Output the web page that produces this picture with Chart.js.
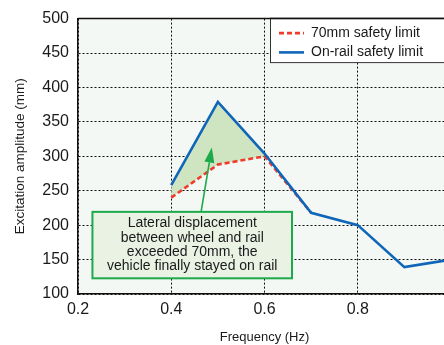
<!DOCTYPE html>
<html>
<head>
<meta charset="utf-8">
<script src="https://cdn.jsdelivr.net/npm/chart.js@4/dist/chart.umd.min.js"></script>
<style>
  html, body { margin: 0; padding: 0; background: #fff; overflow: hidden; width: 444px; height: 345px; }
  canvas { display: block; }
</style>
</head>
<body>
<canvas id="chart" width="451" height="345"></canvas>
<script>
// Excitation amplitude limits versus excitation frequency
const frequency      = [0.4, 0.5, 0.6, 0.7, 0.8, 0.9, 1.0];
const onRailLimit    = [258, 379, 304, 218, 200, 139, 150];
const limitFrequency = [0.4, 0.5, 0.6, 0.7];
const limit70mm      = [240, 288, 300, 218];
const shadedFrequency = [0.4, 0.5, 0.6];   // band between the two limits
const xTicks = [0.2, 0.4, 0.6, 0.8];
const xRange = [0.2, 1.0];
const yTicks = [100, 150, 200, 250, 300, 350, 400, 450, 500];
const seriesNames = ['On-rail safety limit', '70mm safety limit'];
const noteLines = [
  'Lateral displacement',
  'between wheel and rail',
  'exceeded 70mm, the',
  'vehicle finally stayed on rail'
];

const FONT = '"Liberation Sans", Arial, Helvetica, sans-serif';
const BLUE = '#0f66b8';
const RED = '#ee3b2a';
const GREEN = '#1daa4b';

const pairs = (xs, ys) => xs.map((x, i) => ({ x, y: ys[i] }));
const lookup = (xs, ys, x) => ys[xs.indexOf(x)];

// note box and arrow, in axis units
const note = { x0: 0.231, x1: 0.659, y0: 219.3, y1: 122.8, arrowFrom: [0.464, 219.3], arrowTo: [0.487, 312.6] };

const extras = {
  id: 'extras',
  beforeDraw(chart) {
    const { ctx, chartArea: a } = chart;
    ctx.save();
    ctx.fillStyle = '#f3f8f4';
    ctx.fillRect(a.left, a.top, a.right - a.left, a.bottom - a.top);
    ctx.restore();
  },
  afterDraw(chart) {
    const { ctx, chartArea: a, scales: { x, y } } = chart;
    ctx.save();

    // top frame line
    ctx.strokeStyle = '#111';
    ctx.lineWidth = 1.5;
    ctx.beginPath();
    ctx.moveTo(a.left, a.top);
    ctx.lineTo(a.right, a.top);
    ctx.stroke();

    // arrow
    const fx = x.getPixelForValue(note.arrowFrom[0]), fy = y.getPixelForValue(note.arrowFrom[1]);
    const tx = x.getPixelForValue(note.arrowTo[0]), ty = y.getPixelForValue(note.arrowTo[1]);
    const ang = Math.atan2(ty - fy, tx - fx);
    const headLen = 15, headHalf = 5;
    const bx = tx - headLen * Math.cos(ang), by = ty - headLen * Math.sin(ang);
    ctx.strokeStyle = GREEN;
    ctx.fillStyle = GREEN;
    ctx.lineWidth = 1.6;
    ctx.beginPath();
    ctx.moveTo(fx, fy);
    ctx.lineTo(bx, by);
    ctx.stroke();
    ctx.beginPath();
    ctx.moveTo(tx, ty);
    ctx.lineTo(bx + headHalf * Math.sin(ang), by - headHalf * Math.cos(ang));
    ctx.lineTo(bx - headHalf * Math.sin(ang), by + headHalf * Math.cos(ang));
    ctx.closePath();
    ctx.fill();

    // note box
    const l = x.getPixelForValue(note.x0), r = x.getPixelForValue(note.x1);
    const t = y.getPixelForValue(note.y0), b = y.getPixelForValue(note.y1);
    ctx.fillStyle = '#eaf2e4';
    ctx.fillRect(l, t, r - l, b - t);
    ctx.strokeStyle = GREEN;
    ctx.lineWidth = 2;
    ctx.strokeRect(l, t, r - l, b - t);
    ctx.fillStyle = '#1a1a1a';
    ctx.font = '14px ' + FONT;
    ctx.textAlign = 'center';
    ctx.textBaseline = 'middle';
    const lh = 14.3;
    const cy = (t + b) / 2, cx = (l + r) / 2;
    noteLines.forEach((s, i) => {
      ctx.fillText(s, cx, cy + (i - (noteLines.length - 1) / 2) * lh);
    });

    // legend
    const lx = 270, ly = a.top, lw = 200, lhgt = 44;
    ctx.fillStyle = '#ffffff';
    ctx.fillRect(lx, ly, lw, lhgt);
    ctx.strokeStyle = '#333';
    ctx.lineWidth = 1;
    ctx.strokeRect(lx + 0.5, ly, lw, lhgt);
    ctx.strokeStyle = '#111';
    ctx.lineWidth = 1.5;
    ctx.beginPath();
    ctx.moveTo(lx, ly);
    ctx.lineTo(a.right, ly);
    ctx.stroke();
    const order = [1, 0];
    order.forEach((di, row) => {
      const ds = chart.data.datasets[di];
      const rowY = ly + 14.5 + row * 19.3;
      ctx.strokeStyle = ds.borderColor;
      ctx.lineWidth = ds.borderWidth;
      ctx.setLineDash(ds.borderDash || []);
      ctx.beginPath();
      ctx.moveTo(279, rowY);
      ctx.lineTo(304, rowY);
      ctx.stroke();
      ctx.setLineDash([]);
      ctx.fillStyle = '#1a1a1a';
      ctx.font = '14px ' + FONT;
      ctx.textAlign = 'left';
      ctx.textBaseline = 'middle';
      ctx.fillText(ds.label, 311, rowY);
    });
    ctx.restore();
  }
};

const gridStyle = { color: '#111', lineWidth: 1, drawTicks: false };

new Chart(document.getElementById('chart'), {
  type: 'line',
  data: {
    datasets: [
      {
        label: seriesNames[0],
        data: pairs(frequency, onRailLimit),
        borderColor: BLUE,
        borderWidth: 2.6,
        pointRadius: 0,
        tension: 0,
        fill: false
      },
      {
        label: seriesNames[1],
        data: pairs(limitFrequency, limit70mm),
        borderColor: RED,
        borderWidth: 2.6,
        borderDash: [5, 3],
        pointRadius: 0,
        tension: 0,
        fill: false
      },
      {
        label: 'band upper',
        data: pairs(shadedFrequency, shadedFrequency.map(f => lookup(frequency, onRailLimit, f))),
        borderWidth: 0,
        borderColor: 'rgba(0,0,0,0)',
        backgroundColor: '#cfe4c1',
        pointRadius: 0,
        fill: '+1'
      },
      {
        label: 'band lower',
        data: pairs(shadedFrequency, shadedFrequency.map(f => lookup(limitFrequency, limit70mm, f))),
        borderWidth: 0,
        borderColor: 'rgba(0,0,0,0)',
        pointRadius: 0,
        fill: false
      }
    ]
  },
  options: {
    responsive: false,
    animation: false,
    layout: { padding: { top: 18, right: 0, bottom: 0, left: 0 } },
    plugins: {
      legend: { display: false },
      tooltip: { enabled: false }
    },
    scales: {
      x: {
        type: 'linear',
        min: xRange[0],
        max: xRange[1],
        afterBuildTicks: s => { s.ticks = xTicks.map(v => ({ value: v })); },
        afterFit: s => { s.height = 51; },
        grid: gridStyle,
        border: { display: true, color: '#111', width: 1.5, dash: [2, 2] },
        ticks: {
          padding: 6,
          color: '#1a1a1a',
          font: { family: FONT, size: 16 },
          maxRotation: 0,
          callback: v => v.toFixed(1)
        },
        title: {
          display: true,
          text: 'Frequency (Hz)',
          color: '#1a1a1a',
          font: { family: FONT, size: 13 },
          padding: { top: 0, bottom: 0 }
        }
      },
      y: {
        type: 'linear',
        min: yTicks[0],
        max: yTicks[yTicks.length - 1],
        afterBuildTicks: s => { s.ticks = yTicks.map(v => ({ value: v })); },
        afterFit: s => { s.width = 78; },
        grid: gridStyle,
        border: { display: true, color: '#111', width: 1.5, dash: [2, 2] },
        ticks: {
          padding: 9,
          color: '#1a1a1a',
          font: { family: FONT, size: 16 }
        },
        title: {
          display: true,
          text: 'Excitation amplitude (mm)',
          color: '#1a1a1a',
          font: { family: FONT, size: 13.5 },
          padding: { top: 12, bottom: 0 }
        }
      }
    }
  },
  plugins: [extras]
});
</script>
</body>
</html>
